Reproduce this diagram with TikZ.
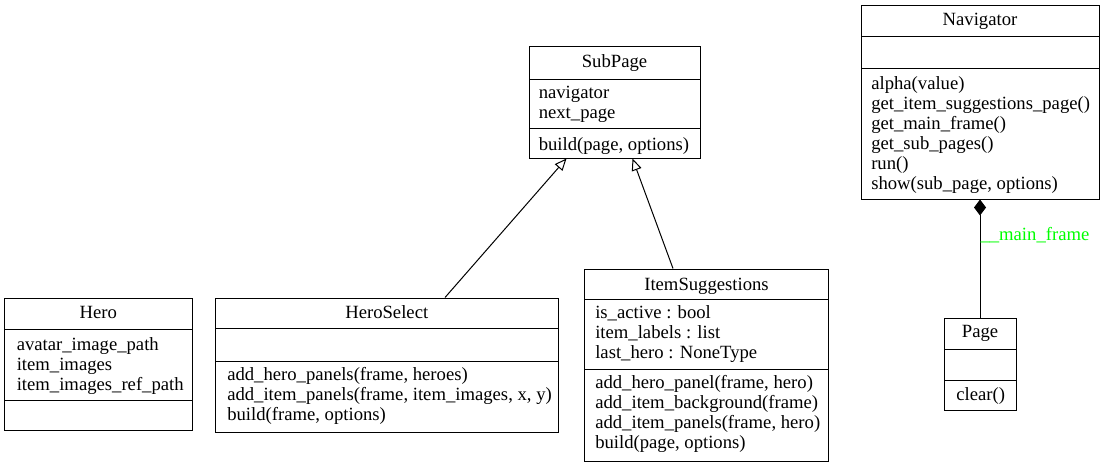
\documentclass[tikz,border=0pt]{standalone}
\usepackage{fontspec}
\setmainfont{Liberation Serif}
\usetikzlibrary{arrows.meta,fit}

\tikzset{
  classbox/.style={draw, line width=.75pt, inner sep=0pt},
  classtitle/.style={anchor=base, inner sep=0pt},
  members/.style={anchor=base west, align=left, inner sep=0pt},
  divider/.style={line width=.75pt},
  extends/.style={-{Triangle[open,length=9pt,width=7.5pt]}, line width=.75pt},
  composed/.style={{Diamond[length=12pt,width=9pt]}-, line width=.75pt},
  rolename/.style={anchor=base west, inner sep=0pt, text=green}
}

\begin{document}
\begin{tikzpicture}[x=.75pt, y=-.75pt, font=\fontsize{14pt}{15pt}\selectfont]
\useasboundingbox[fill=white] (0,0) rectangle (1105,467);

% SubPage (member blocks sit on the baseline of their last line)
\node[classbox, fit={(529,47) (700,158)}] (subpage) {};
\draw[divider] (529,79.5) -- (700,79.5);
\draw[divider] (529,128.5) -- (700,128.5);
\node[classtitle] (subpage title) at (614.5,67.5) {SubPage};
\node[members] (subpage attrs) at (538.5,118) {navigator\\next\_page};
\node[members] (subpage ops) at (538.5,150) {build(page, options)};

% Navigator
\node[classbox, fit={(861,6) (1099,199)}] (navigator) {};
\draw[divider] (861,36.5) -- (1099,36.5);
\draw[divider] (861,69) -- (1099,69);
\node[classtitle] (navigator title) at (980,26) {Navigator};
\node[members] (navigator ops) at (871,189.5) {alpha(value)\\get\_item\_suggestions\_page()\\get\_main\_frame()\\get\_sub\_pages()\\run()\\show(sub\_page, options)};

% Page
\node[classbox, fit={(944,318) (1016,410.5)}] (page) {};
\draw[divider] (944,349) -- (1016,349);
\draw[divider] (944,380) -- (1016,380);
\node[classtitle] (page title) at (980,337) {Page};
\node[members] (page ops) at (956,400) {clear()};

% Hero
\node[classbox, fit={(4.5,298.5) (192,430)}] (hero) {};
\draw[divider] (4.5,329) -- (192,329);
\draw[divider] (4.5,400) -- (192,400);
\node[classtitle] (hero title) at (98.25,318.5) {Hero};
\node[members] (hero attrs) at (16.5,390) {avatar\_image\_path\\item\_images\\item\_images\_ref\_path};

% HeroSelect
\node[classbox, fit={(215.5,298) (558,432)}] (heroselect) {};
\draw[divider] (215.5,328.5) -- (558,328.5);
\draw[divider] (215.5,361) -- (558,361);
\node[classtitle] (heroselect title) at (386.75,318) {HeroSelect};
\node[members] (heroselect ops) at (227,420.5) {add\_hero\_panels(frame, heroes)\\add\_item\_panels(frame, item\_images, x, y)\\build(frame, options)};

% ItemSuggestions
\node[classbox, fit={(584.5,269) (828.5,461.5)}] (itemsugg) {};
\draw[divider] (584.5,299) -- (828.5,299);
\draw[divider] (584.5,369.5) -- (828.5,369.5);
\node[classtitle] (itemsugg title) at (706.5,290) {ItemSuggestions};
\node[members] (itemsugg attrs) at (595,358.5) {is\_active : bool\\item\_labels : list\\last\_hero : NoneType};
\node[members] (itemsugg ops) at (595,448) {add\_hero\_panel(frame, hero)\\add\_item\_background(frame)\\add\_item\_panels(frame, hero)\\build(page, options)};

% relations
\draw[extends] ([xshift=172.5pt]heroselect.north west) -- ([xshift=28.5pt]subpage.south west);
\draw[extends] ([xshift=66.75pt]itemsugg.north west) -- ([xshift=78pt]subpage.south west);
\draw[composed] (navigator.south) -- node[rolename, pos=.345] (main frame) {\_\_main\_frame} (page.north);
\end{tikzpicture}
\end{document}
